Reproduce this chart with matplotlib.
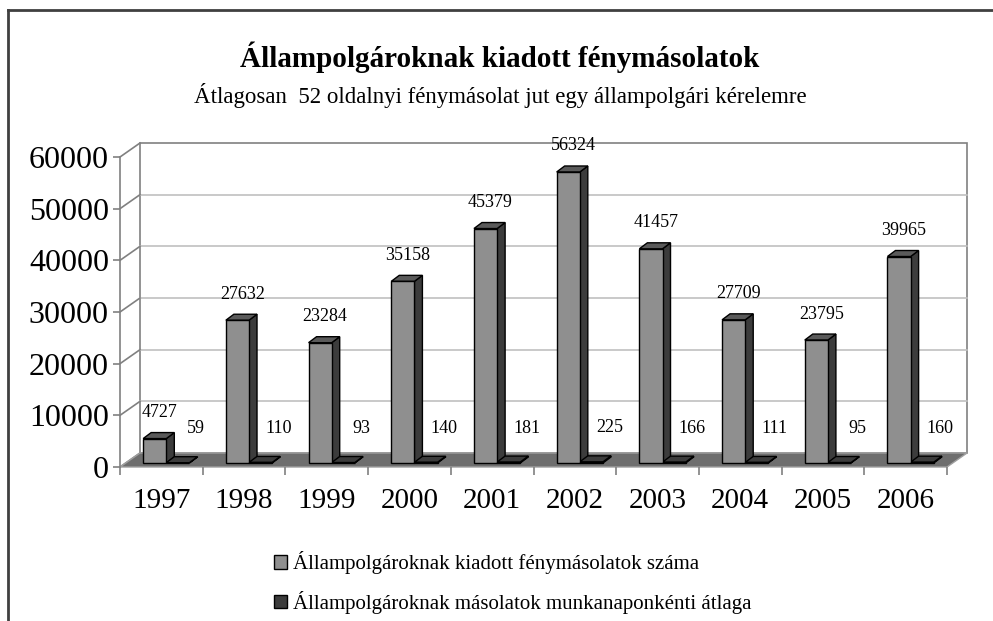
import numpy as np
import matplotlib
matplotlib.use('Agg')
import matplotlib.pyplot as plt
from matplotlib.patches import Polygon, Patch
from matplotlib.lines import Line2D

# Data
years = ['1997', '1998', '1999', '2000', '2001', '2002', '2003', '2004', '2005', '2006']
copies = [4727, 27632, 23284, 35158, 45379, 56324, 41457, 27709, 23795, 39965]
daily_avg = [59, 110, 93, 140, 181, 225, 166, 111, 95, 160]
series_names = ['Állampolgároknak kiadott fénymásolatok száma',
                'Állampolgároknak másolatok munkanaponkénti átlaga']
yticks = [0, 10000, 20000, 30000, 40000, 50000, 60000]
title = 'Állampolgároknak kiadott fénymásolatok'
subtitle = 'Átlagosan  52 oldalnyi fénymásolat jut egy állampolgári kérelemre'

plt.rcParams['font.family'] = ['Liberation Serif', 'DejaVu Serif']

W, H = 993, 621
fig = plt.figure(figsize=(W / 100, H / 100), dpi=100)
ax = fig.add_axes([120 / W, 1 - 467 / H, 827 / W, 310 / H])
ax.set_xlim(-0.5, len(years) - 0.5)
ax.set_ylim(0, yticks[-1])

# pixel -> data conversion for the fake 3D depth
px_x = len(years) / 827
px_y = yticks[-1] / 310
wdx, wdy = 20 * px_x, 14 * px_y    # wall depth
bdx, bdy = 8 * px_x, 6 * px_y      # bar depth
base = 4 * px_y                    # bars stand a bit behind the floor edge

x0, x1 = -0.5, len(years) - 0.5
grey = '#808080'

# back wall
ax.add_patch(Polygon([(x0 + wdx, wdy), (x1 + wdx, wdy), (x1 + wdx, yticks[-1] + wdy),
                      (x0 + wdx, yticks[-1] + wdy)], closed=True, fc='white',
                     ec=grey, lw=1.2, clip_on=False, zorder=1))
for v in yticks:
    if 0 < v < yticks[-1]:
        ax.plot([x0 + wdx, x1 + wdx], [v + wdy, v + wdy], color='#c0c0c0',
                lw=1.2, clip_on=False, zorder=1.1)
    ax.plot([x0, x0 + wdx], [v, v + wdy], color=grey, lw=1.2,
            clip_on=False, zorder=1.2)

# floor
ax.add_patch(Polygon([(x0, 0), (x1, 0), (x1 + wdx, wdy), (x0 + wdx, wdy)],
                     closed=True, fc='#6e6e6e', ec='#a0a0a0', lw=1,
                     clip_on=False, zorder=1.5))

bw = 0.28
xs = np.arange(len(years))


def draw_bars(left, vals, front, top, side):
    ax.bar(left, vals, width=bw, bottom=base, align='edge', color=front,
           edgecolor='black', lw=1, zorder=3, clip_on=False)
    for l, v in zip(left, vals):
        r = l + bw
        t = v + base
        ax.add_patch(Polygon([(l, t), (r, t), (r + bdx, t + bdy), (l + bdx, t + bdy)],
                             closed=True, fc=top, ec='black', lw=1, zorder=2.9,
                             clip_on=False))
        ax.add_patch(Polygon([(r, base), (r + bdx, base + bdy), (r + bdx, t + bdy), (r, t)],
                             closed=True, fc=side, ec='black', lw=1, zorder=2.8,
                             clip_on=False))


left1 = xs - 0.22
left2 = xs + 0.06
draw_bars(left1, copies, '#8f8f8f', '#5a5a5a', '#3c3c3c')
draw_bars(left2, daily_avg, '#3c3c3c', '#3c3c3c', '#2a2a2a')

# data labels
for l, v in zip(left1, copies):
    ax.annotate(str(v), (l + bw / 2, v + base), xytext=(5, 26), textcoords='offset pixels',
                ha='center', va='center', fontsize=13, zorder=5)
for l, v in zip(left2, daily_avg):
    ax.annotate(str(v), (l + bw / 2, v + base), xytext=(18, 34), textcoords='offset pixels',
                ha='center', va='center', fontsize=13, zorder=5)

# axes styling
for s in ['top', 'right', 'bottom']:
    ax.spines[s].set_visible(False)
ax.spines['left'].set_color(grey)
ax.spines['left'].set_linewidth(1.2)
ax.set_yticks(yticks)
ax.set_yticklabels([str(v) for v in yticks], fontsize=23)
ax.tick_params(axis='y', length=5, color=grey, width=1.2, pad=3)
ax.set_xticks(xs)
ax.set_xticklabels(years, fontsize=21)
ax.set_xticks(np.arange(-0.5, len(years)), minor=True)
ax.tick_params(axis='x', which='major', length=0, pad=15)
ax.tick_params(axis='x', which='minor', length=6, color=grey, width=1.2)
ax.patch.set_visible(False)

# titles
fig.text(500 / W, 1 - 57 / H, title, ha='center', va='center', fontsize=21,
         fontweight='bold')
fig.text(500 / W, 1 - 96 / H, subtitle, ha='center', va='center', fontsize=16.5)

# legend
handles = [Patch(fc='#8f8f8f', ec='black'), Patch(fc='#3c3c3c', ec='black')]
fig.legend(handles, series_names, loc='upper left',
           bbox_to_anchor=(264 / W, 1 - 541 / H), frameon=False, fontsize=15,
           handlelength=0.6, handleheight=0.6, handletextpad=0.3,
           labelspacing=0.8, borderpad=0)

# chart-area border (left and top edges visible)
fig.add_artist(Line2D([8 / W, 8 / W], [0, 1 - 10 / H], color='#404040', lw=2))
fig.add_artist(Line2D([8 / W, 1], [1 - 10 / H, 1 - 10 / H], color='#404040', lw=2))

fig.savefig('out.png', dpi=100)
